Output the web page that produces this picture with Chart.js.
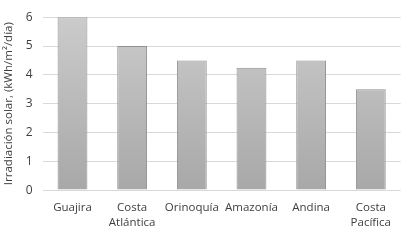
<!DOCTYPE html>
<html>
<head>
<meta charset="utf-8">
<script src="https://cdn.jsdelivr.net/npm/chart.js@4"></script>
<style>
  html, body { margin: 0; padding: 0; background: #fff; }
  #wrap { width: 401px; height: 240px; }
</style>
</head>
<body>
<div id="wrap"><canvas id="grafico"></canvas></div>
<script>
// Datos de la gráfica
const regiones = ["Guajira", ["Costa", "Atlántica"], "Orinoquía", "Amazonía", "Andina", ["Costa", "Pacífica"]];
const irradiacion = [6, 5, 4.5, 4.25, 4.5, 3.5];
const ticksY = [0, 1, 2, 3, 4, 5, 6];

// Degradado gris de las barras
function rellenoBarra(context) {
    const area = context.chart.chartArea;
    if (!area) return "#b5b5b5";
    const ctx = context.chart.ctx;
    const g = ctx.createLinearGradient(0, area.top, 0, area.bottom);
    g.addColorStop(0, "#cbcbcb");
    g.addColorStop(1, "#a8a8a8");
    return g;
}

const ctx = document.getElementById("grafico").getContext("2d");
new Chart(ctx, {
    type: "bar",
    data: {
        labels: regiones,
        datasets: [{
            data: irradiacion,
            backgroundColor: rellenoBarra,
            borderColor: "#8f8f8f",
            borderWidth: 1,
            categoryPercentage: 1,
            barPercentage: 0.5,
        }],
    },
    options: {
        responsive: true,
        maintainAspectRatio: false,
        animation: false,
        layout: { padding: { top: 2, right: 0, bottom: 0, left: 2 } },
        plugins: {
            legend: { display: false },
            tooltip: { enabled: false },
        },
        scales: {
            x: {
                grid: { display: false, drawTicks: false },
                border: { display: false },
                ticks: {
                    color: "#404040",
                    font: { family: "Open Sans", size: 11.5, lineHeight: 1.3 },
                    maxRotation: 0,
                    padding: 10,
                },
            },
            y: {
                min: 0,
                max: 6,
                afterBuildTicks: axis => { axis.ticks = ticksY.map(v => ({ value: v })); },
                grid: { color: "#d9d9d9", lineWidth: 1, drawTicks: false },
                border: { display: false },
                ticks: {
                    color: "#404040",
                    font: { family: "Open Sans", size: 12 },
                    padding: 10,
                },
                title: {
                    display: true,
                    text: "Irradiación solar, (kWh/m²/día)",
                    color: "#404040",
                    font: { family: "Open Sans", size: 11.5 },
                    padding: { top: 0, bottom: 0 },
                },
            },
        },
    },
});
</script>
</body>
</html>
